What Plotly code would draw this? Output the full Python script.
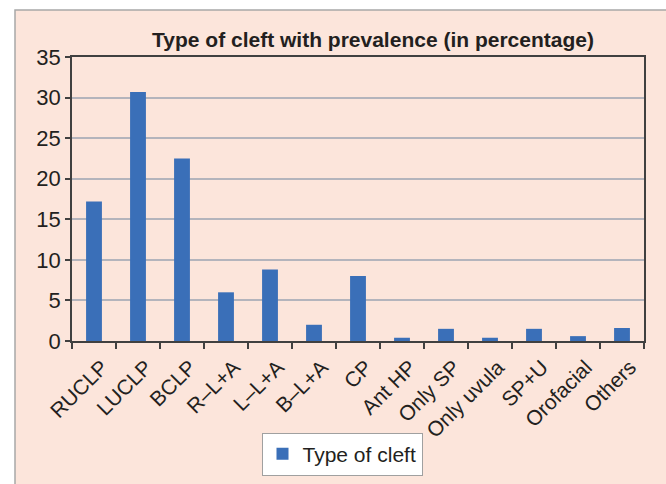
import plotly.graph_objects as go

categories = ["RUCLP", "LUCLP", "BCLP", "R–L+A", "L–L+A", "B–L+A", "CP",
              "Ant HP", "Only SP", "Only uvula", "SP+U", "Orofacial", "Others"]
prevalence = [17.2, 30.7, 22.5, 6.0, 8.8, 2.0, 8.0, 0.4, 1.5, 0.4, 1.5, 0.6, 1.6]
y_ticks = [0, 5, 10, 15, 20, 25, 30, 35]

W, H = 666, 484
L, R, T, B = 72, 22, 57, 143
pw, ph = W - L - R, H - T - B

def px_x(x):
    return (x - L) / pw

def px_y(y):
    return (H - B - y) / ph

FONT = "Liberation Sans, Arial, sans-serif"
PEACH = "#FCE5DB"
TXT = "#231F20"

fig = go.Figure()
fig.add_trace(go.Bar(
    x=categories, y=prevalence, name="Type of cleft",
    marker=dict(color="#3A6FB8", line=dict(width=0)),
    showlegend=True,
))

fig.update_layout(
    width=W, height=H,
    margin=dict(l=L, r=R, t=T, b=B, autoexpand=False),
    paper_bgcolor="white",
    plot_bgcolor="white",
    bargap=0.64,
    font=dict(family=FONT, size=21, color=TXT),
    title=dict(text="<b>Type of cleft with prevalence (in percentage)</b>",
               x=px_x(373), xref="paper", xanchor="center",
               y=1 - 40 / H, yref="container", yanchor="middle",
               font=dict(family=FONT, size=21, color=TXT)),
    showlegend=True,
    legend=dict(orientation="h", x=px_x(342), xanchor="center", xref="paper",
                y=px_y(454), yanchor="middle", yref="paper",
                bgcolor="white", bordercolor="#A0A0A0", borderwidth=1,
                font=dict(family=FONT, size=21, color=TXT)),
    shapes=[dict(type="rect", xref="paper", yref="paper", layer="below",
                 x0=px_x(15), x1=px_x(700), y0=px_y(520), y1=px_y(10),
                 fillcolor=PEACH, line=dict(color="#A8A8A8", width=1.5))],
)

fig.update_xaxes(
    type="category", tickangle=-45, automargin=False,
    showline=True, linecolor="#404040", linewidth=1.5, mirror=True,
    ticks="outside", tickson="boundaries", ticklen=6, tickcolor="#404040",
    tickwidth=1.5,
    ticklabelshift=8, ticklabelstandoff=4,
    tickfont=dict(family=FONT, size=21, color=TXT),
    showgrid=False,
)
fig.update_yaxes(
    range=[0, 35], tickvals=y_ticks, automargin=False,
    showline=True, linecolor="#404040", linewidth=1.5, mirror=True,
    ticks="outside", ticklen=5, tickcolor="#404040", tickwidth=1.5,
    showgrid=True, gridcolor="#B4B4BC", gridwidth=1.5,
    zeroline=False,
    tickfont=dict(family=FONT, size=22, color=TXT),
)

fig.write_html("out.html")
